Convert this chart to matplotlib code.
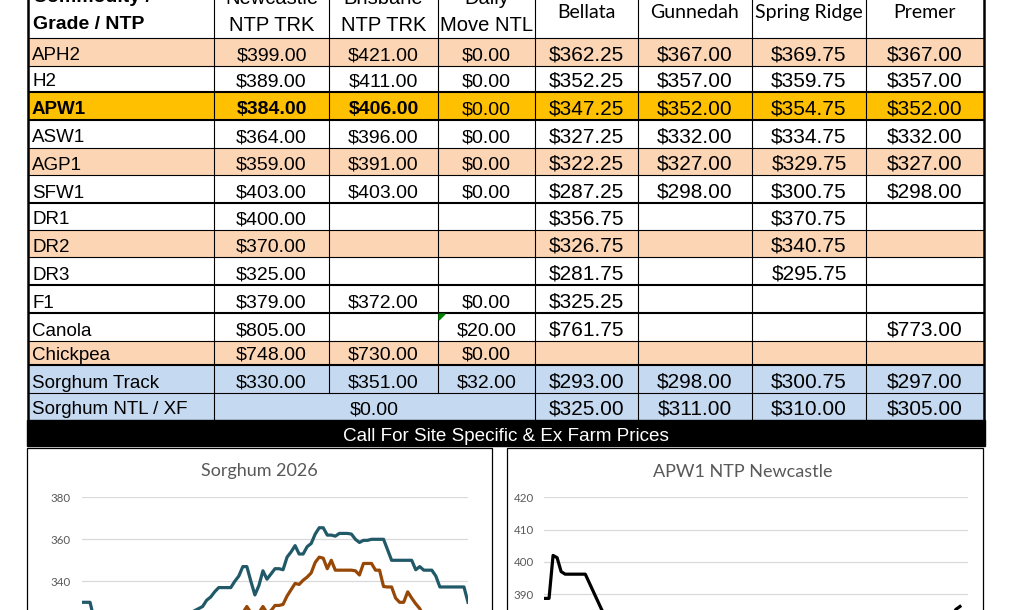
import matplotlib
matplotlib.use('Agg')
import matplotlib.pyplot as plt
from matplotlib.patches import Rectangle, Polygon
import numpy as np

# ---- table data ----
grades = ['APH2', 'H2', 'APW1', 'ASW1', 'AGP1', 'SFW1', 'DR1', 'DR2', 'DR3',
          'F1', 'Canola', 'Chickpea', 'Sorghum Track', 'Sorghum NTL / XF']
newcastle = [399, 389, 384, 364, 359, 403, 400, 370, 325, 379, 805, 748, 330, None]
brisbane = [421, 411, 406, 396, 391, 403, None, None, None, 372, None, 730, 351, None]
daily_move = [0, 0, 0, 0, 0, 0, None, None, None, 0, 20, 0, 32, None]
sorghum_ntl_xf = 0.00
bellata = [362.25, 352.25, 347.25, 327.25, 322.25, 287.25, 356.75, 326.75, 281.75,
           325.25, 761.75, None, 293.00, 325.00]
gunnedah = [367, 357, 352, 332, 327, 298, None, None, None, None, None, None, 298, 311]
spring_ridge = [369.75, 359.75, 354.75, 334.75, 329.75, 300.75, 370.75, 340.75, 295.75,
                None, None, None, 300.75, 310.00]
premer = [367, 357, 352, 332, 327, 298, None, None, None, None, 773, None, 297, 305]
row_style = ['peach', 'white', 'gold', 'white', 'peach', 'white', 'white', 'peach',
             'white', 'white', 'white', 'peach', 'blue', 'blue']
sites = ['Bellata', 'Gunnedah', 'Spring Ridge', 'Premer']

# ---- chart data (hidden parts estimated) ----
sorghum_a = [330, 330, 330,
             322, 319, 318, 317, 316, 316, 315, 315, 314, 314,
             315, 316, 317, 318, 318, 319, 320, 320, 321, 322,
             322, 323, 324, 324, 325, 326,
             327, 328, 331, 332.5, 335, 337, 337, 337, 337, 340,
             342.5, 347, 347, 340, 333.5, 338, 345, 341, 343.5, 346,
             346, 345.5, 351.5, 354, 357, 353, 353, 356.5, 358, 362.5,
             365.5, 365.5, 362, 362, 361.5, 362.8, 362.8, 362.8, 362.5, 360,
             358.5, 359.5, 359.5, 360, 360, 360, 360, 355, 350, 350,
             350, 350, 350, 350, 345.5, 347, 345.3, 345.3, 345.3, 342.5,
             337.3, 337.3, 337.3, 337.3, 337.3, 337.3, 337.3, 330]
sorghum_b = [318, 318, 316, 316, 315, 314, 314, 313, 312, 312,
             311, 311, 312, 313, 313, 314, 315, 315, 316, 316,
             317, 318, 318, 319, 320, 320, 321, 321, 322, 322,
             323, 323, 324, 324, 325, 324, 325, 325, 324, 325,
             325, 328, 325, 325, 325, 328, 325, 326, 328.5, 328.5,
             329, 333, 336, 339, 338.5, 340.5, 342, 344, 349, 351.5,
             351, 346, 350, 345.3, 345.3, 345.3, 345.3, 345.3, 345, 343,
             348.5, 348.5, 348.5, 345.3, 345.3, 337.5, 337.3, 337.3, 332, 330,
             330, 335, 332, 329.3, 327,
             323, 322, 320, 319, 318, 318, 317, 316, 316, 315, 315, 314]
apw1_newcastle = [388.7, 388.7, 402, 401.3, 397, 396.2, 396.2, 396.2, 396.2, 396.2,
                  396.2, 393.5, 390.8, 388.1, 385.4, 383,
                  381, 379, 377, 376, 375, 375, 374, 373, 373, 372,
                  372, 371, 370, 370, 371, 372, 372, 373, 374, 374,
                  373, 372, 371, 370, 369, 368, 368, 369, 370, 371,
                  372, 373, 373, 374, 375, 376, 376, 375, 374, 373,
                  372, 372, 371, 371, 372, 373, 374, 375, 376, 377,
                  378, 378, 377, 376, 375, 374, 374, 373, 372, 372,
                  371, 371, 372, 373, 374, 375, 375, 376, 377, 377,
                  378, 378, 379, 380, 380, 379, 378, 378, 379, 380,
                  381, 381, 382, 382, 383,
                  383, 385.3, 386.2]

W, H = 1015, 610
fig = plt.figure(figsize=(W / 100, H / 100), dpi=100)
ax = fig.add_axes([0, 0, 1, 1])
ax.set_xlim(0, W)
ax.set_ylim(H, 0)
ax.axis('off')

ARIAL = 'Liberation Sans'
CALIBRI = 'Lato'
fills = {'peach': '#FCD5B4', 'white': 'white', 'gold': '#FFC000', 'blue': '#C5D9F1'}

col_x = [28, 214, 329, 438, 535, 638, 752, 866, 984]
row_y = [38, 66, 92, 120, 148, 175, 203, 230, 257, 285, 313, 341, 365, 393, 420]
thick_rows = {92, 120, 203, 285, 313, 365}
top = -30

# row fills
for i, st in enumerate(row_style):
    ax.add_patch(Rectangle((col_x[0], row_y[i]), col_x[-1] - col_x[0],
                           row_y[i + 1] - row_y[i], color=fills[st], lw=0, zorder=1))

# grid lines
for y in row_y[:-1]:
    lw = 1.5 if y in thick_rows else 0.8
    ax.plot([col_x[0], col_x[-1]], [y, y], color='black', lw=lw, zorder=3,
            solid_capstyle='butt')
for x in col_x:
    lw = 1.8 if x in (col_x[0], col_x[-1]) else 0.8
    if x in (329, 438):
        ax.plot([x, x], [top, row_y[-2]], color='black', lw=lw, zorder=3)
    else:
        ax.plot([x, x], [top, row_y[-1]], color='black', lw=lw, zorder=3)

# header (top line is cut by the picture edge, as in the original)
ax.text(33, 2, 'Commodity /', fontfamily=ARIAL, fontsize=14, fontweight='bold',
        va='baseline', ha='left', zorder=4)
ax.text(33, 29, 'Grade / NTP', fontfamily=ARIAL, fontsize=14, fontweight='bold',
        va='baseline', ha='left', zorder=4)
for c, (l1, l2) in enumerate([('Newcastle', 'NTP TRK'), ('Brisbane', 'NTP TRK'),
                              ('Daily', 'Move NTL')], start=1):
    cx = (col_x[c] + col_x[c + 1]) / 2
    ax.text(cx, 4, l1, fontfamily=ARIAL, fontsize=14.5, ha='center', va='baseline', zorder=4)
    ax.text(cx, 31, l2, fontfamily=ARIAL, fontsize=14.5, ha='center', va='baseline', zorder=4)
for c, s in enumerate(sites, start=4):
    cx = (col_x[c] + col_x[c + 1]) / 2
    ax.text(cx, 18, s, fontfamily=CALIBRI, fontsize=14, ha='center', va='baseline', zorder=4)


def money(v):
    return '${:,.2f}'.format(v).replace(',', '')


left_cols = [newcastle, brisbane, daily_move]
right_cols = [bellata, gunnedah, spring_ridge, premer]
for i, g in enumerate(grades):
    yb = row_y[i + 1] - 5.5
    bold = 'bold' if g == 'APW1' else 'normal'
    ax.text(32, yb, g, fontfamily=ARIAL, fontsize=13.5, fontweight=bold,
            va='baseline', ha='left', zorder=4)
    for c, col in enumerate(left_cols, start=1):
        v = col[i]
        if v is None:
            continue
        cx = (col_x[c] + col_x[c + 1]) / 2
        w = bold if c < 3 else 'normal'
        ax.text(cx, yb, money(v), fontfamily=ARIAL, fontsize=14, fontweight=w,
                va='baseline', ha='center', zorder=4)
    for c, col in enumerate(right_cols, start=4):
        v = col[i]
        if v is None:
            continue
        cx = (col_x[c] + col_x[c + 1]) / 2
        ax.text(cx, yb, money(v), fontfamily=ARIAL, fontsize=15,
                va='baseline', ha='center', zorder=4)

# merged cell for Sorghum NTL / XF
ax.text((col_x[1] + col_x[4]) / 2, row_y[-1] - 5.5, money(sorghum_ntl_xf), fontfamily=ARIAL,
        fontsize=14, va='baseline', ha='center', zorder=4)

# comment marker
ax.add_patch(Polygon([(439, 314), (445, 314), (439, 320)], closed=True,
                     color='#008000', zorder=5))

# black banner
ax.add_patch(Rectangle((27, 420), 958, 26, color='black', zorder=2))
ax.text(506, 441, 'Call For Site Specific & Ex Farm Prices', color='white',
        fontfamily=ARIAL, fontsize=13.6, ha='center', va='baseline', zorder=4)

# chart frames
ax.add_patch(Rectangle((27, 448), 465.5, 200, facecolor='white', edgecolor='black',
                       lw=0.9, zorder=1))
ax.add_patch(Rectangle((507, 448), 476, 200, facecolor='white', edgecolor='black',
                       lw=0.9, zorder=1))
ax.text(259.5, 471, 'Sorghum 2026', fontfamily=CALIBRI, fontsize=13, color='#595959',
        ha='center', va='center', zorder=4)
ax.text(743, 472, 'APW1 NTP Newcastle', fontfamily=CALIBRI, fontsize=13, color='#595959',
        ha='center', va='center', zorder=4)


def add_chart(x0, x1, y_top, px_per_unit, vmin, vmax, step, pad):
    h = (vmax - vmin) * px_per_unit
    a = fig.add_axes([x0 / W, 1 - (y_top + h) / H, (x1 - x0) / W, h / H])
    a.set_facecolor('none')
    a.set_ylim(vmin, vmax)
    a.set_yticks(np.arange(vmin, vmax + 1, step))
    a.yaxis.grid(True, color='#D9D9D9', lw=0.9)
    a.set_axisbelow(True)
    a.tick_params(axis='y', length=0, pad=pad, labelsize=8.3, labelcolor='#595959')
    a.tick_params(axis='x', length=0, labelbottom=False)
    for lab in a.get_yticklabels():
        lab.set_fontfamily(CALIBRI)
    for s in a.spines.values():
        s.set_visible(False)
    return a


ax1 = add_chart(82, 468, 497.3, 2.1, 300, 380, 20, 8)
ax1.plot(np.arange(len(sorghum_a)), sorghum_a, color='#215968', lw=2.3)
ax1.plot(np.arange(len(sorghum_b)), sorghum_b, color='#974706', lw=2.3)
ax1.set_xlim(0, len(sorghum_a) - 1)

ax2 = add_chart(544, 968, 497.3, 3.23, 360, 420, 10, 7.5)
ax2.plot(np.arange(len(apw1_newcastle)), apw1_newcastle, color='black', lw=2.3)
ax2.set_xlim(-0.25, 105)

fig.savefig('out.png', dpi=100)
